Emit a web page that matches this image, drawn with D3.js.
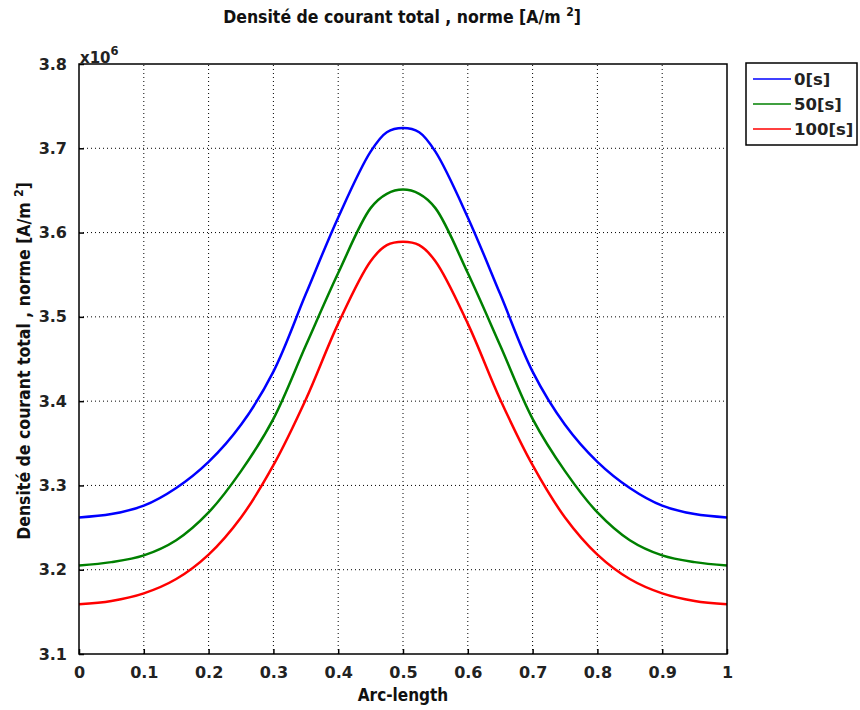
<!DOCTYPE html>
<html>
<head>
<meta charset="utf-8">
<script src="https://cdn.jsdelivr.net/npm/d3@7"></script>
<style>
    body { margin: 0; background: #fff; }
    svg { font-family: "DejaVu Sans", Verdana, sans-serif; }
</style>
</head>
<body>
<div id="chart"></div>
<script>
// Data (values in 10^6 A/m^2)
const arcLength = [0, 0.05, 0.1, 0.15, 0.2, 0.25, 0.3, 0.35, 0.4, 0.45, 0.475, 0.5,
    0.525, 0.55, 0.6, 0.65, 0.7, 0.75, 0.8, 0.85, 0.9, 0.95, 1];
const series0 = [3.262, 3.266, 3.276, 3.297, 3.328, 3.372, 3.435, 3.527, 3.618, 3.696, 3.719, 3.724,
    3.719, 3.696, 3.618, 3.527, 3.435, 3.372, 3.328, 3.297, 3.276, 3.266, 3.262];
const series50 = [3.205, 3.209, 3.217, 3.235, 3.268, 3.317, 3.379, 3.466, 3.552, 3.629, 3.646, 3.651,
    3.646, 3.629, 3.552, 3.466, 3.379, 3.317, 3.268, 3.235, 3.217, 3.209, 3.205];
const series100 = [3.159, 3.163, 3.172, 3.189, 3.218, 3.262, 3.324, 3.402, 3.492, 3.566, 3.585, 3.589,
    3.585, 3.566, 3.492, 3.402, 3.324, 3.262, 3.218, 3.189, 3.172, 3.163, 3.159];
const seriesNames = ["0[s]", "50[s]", "100[s]"];
const seriesColors = ["#0000ff", "#008000", "#ff0000"];
const xTicks = [0, 0.1, 0.2, 0.3, 0.4, 0.5, 0.6, 0.7, 0.8, 0.9, 1];
const yTicks = [3.1, 3.2, 3.3, 3.4, 3.5, 3.6, 3.7, 3.8];

const width = 860;
const height = 710;
const margin = { left: 79, right: 133, top: 64, bottom: 56 };

const svg = d3.select("#chart")
    .append("svg")
    .attr("width", width)
    .attr("height", height);

const xScale = d3.scaleLinear()
    .domain([0, 1])
    .range([margin.left, width - margin.right]);

const yScale = d3.scaleLinear()
    .domain([3.1, 3.8])
    .range([height - margin.bottom, margin.top]);

// grid
svg.append("g")
    .selectAll("line")
    .data(xTicks.slice(1, -1))
    .join("line")
    .attr("x1", d => xScale(d)).attr("x2", d => xScale(d))
    .attr("y1", yScale(3.1)).attr("y2", yScale(3.8))
    .attr("stroke", "#000")
    .attr("stroke-width", 1)
    .attr("stroke-dasharray", "1,3");

svg.append("g")
    .selectAll("line")
    .data(yTicks.slice(1, -1))
    .join("line")
    .attr("x1", xScale(0)).attr("x2", xScale(1))
    .attr("y1", d => yScale(d)).attr("y2", d => yScale(d))
    .attr("stroke", "#000")
    .attr("stroke-width", 1)
    .attr("stroke-dasharray", "1,3");

// curves
const allSeries = [series0, series50, series100];
const line = d3.line()
    .x((d, i) => xScale(arcLength[i]))
    .y(d => yScale(d))
    .curve(d3.curveCatmullRom.alpha(0.5));

svg.append("g")
    .selectAll("path")
    .data(allSeries)
    .join("path")
    .attr("d", d => line(d))
    .attr("fill", "none")
    .attr("stroke", (d, i) => seriesColors[i])
    .attr("stroke-width", 2.5)
    .attr("stroke-linejoin", "round");

// axes
const xAxis = d3.axisBottom(xScale).tickValues(xTicks).tickSize(-5).tickPadding(13)
    .tickFormat(d => d3.format("")(d));
const yAxis = d3.axisLeft(yScale).tickValues(yTicks).tickSize(-5).tickPadding(12)
    .tickFormat(d3.format(".1f"));

svg.append("g")
    .attr("class", "x-axis")
    .attr("transform", `translate(0,${yScale(3.1)})`)
    .call(xAxis)
    .call(g => g.select(".domain").remove());

svg.append("g")
    .attr("class", "y-axis")
    .attr("transform", `translate(${xScale(0)},0)`)
    .call(yAxis)
    .call(g => g.select(".domain").remove());

svg.selectAll(".x-axis, .y-axis")
    .attr("font-size", 16)
    .attr("font-family", "'DejaVu Sans', sans-serif")
    .attr("font-weight", "bold");
svg.selectAll(".tick text")
    .attr("fill", "#222");
svg.selectAll(".tick line")
    .attr("stroke", "#000")
    .attr("stroke-width", 1.5);

// frame
svg.append("rect")
    .attr("x", xScale(0))
    .attr("y", yScale(3.8))
    .attr("width", xScale(1) - xScale(0))
    .attr("height", yScale(3.1) - yScale(3.8))
    .attr("fill", "none")
    .attr("stroke", "#000")
    .attr("stroke-width", 1.5);

// x10^6
const expo = svg.append("text")
    .attr("x", xScale(0) + 1)
    .attr("y", yScale(3.8) - 1)
    .style("font-size", "15px")
    .style("font-weight", "bold")
    .style("fill", "#222");
expo.append("tspan").text("x10");
expo.append("tspan").attr("dy", -8).style("font-size", "11.5px").text("6");

// title and y label share the same text
function addLabel(sel) {
    sel.style("font-family", "'DejaVu Sans Condensed', sans-serif")
        .style("font-weight", "bold")
        .style("font-size", "17.5px")
        .style("fill", "#111");
    sel.append("tspan").text("Densité de courant total , norme [A/m   ");
    sel.append("tspan").attr("dy", -7).style("font-size", "12px").text("2");
    sel.append("tspan").attr("dy", 7).text("]");
}

svg.append("text")
    .attr("x", 402)
    .attr("y", 23)
    .attr("text-anchor", "middle")
    .call(addLabel);

svg.append("text")
    .attr("transform", `translate(30,${(yScale(3.1) + yScale(3.8)) / 2 + 2}) rotate(-90)`)
    .attr("text-anchor", "middle")
    .call(addLabel);

// x label
svg.append("text")
    .attr("x", (xScale(0) + xScale(1)) / 2)
    .attr("y", 701)
    .attr("text-anchor", "middle")
    .style("font-family", "'DejaVu Sans Condensed', sans-serif")
    .style("font-weight", "bold")
    .style("font-size", "17px")
    .style("fill", "#111")
    .text("Arc-length");

// legend
const legend = svg.append("g").attr("transform", "translate(746,63)");
legend.append("rect")
    .attr("width", 111)
    .attr("height", 82)
    .attr("fill", "#fff")
    .attr("stroke", "#000")
    .attr("stroke-width", 1.5);
const items = legend.selectAll("g")
    .data(seriesNames)
    .join("g")
    .attr("transform", (d, i) => `translate(0,${16 + i * 25})`);
items.append("line")
    .attr("x1", 7).attr("x2", 45)
    .attr("stroke", (d, i) => seriesColors[i])
    .attr("stroke-width", 1.5);
items.append("text")
    .attr("x", 48)
    .attr("y", 6)
    .style("font-size", "16.5px")
    .style("font-weight", "bold")
    .style("fill", "#222")
    .text(d => d);
</script>
</body>
</html>
